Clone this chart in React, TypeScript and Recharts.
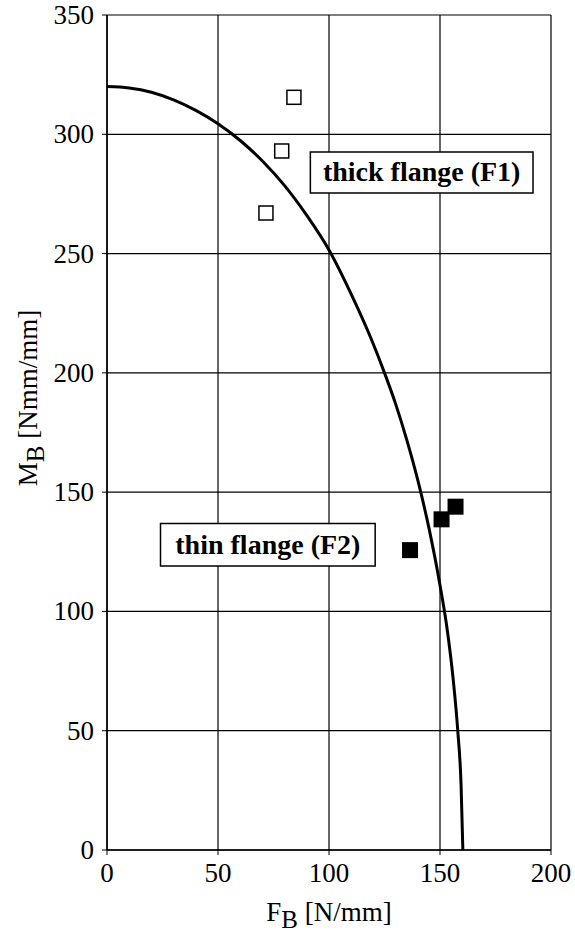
import {
  ComposedChart,
  Line,
  Scatter,
  XAxis,
  YAxis,
  CartesianGrid,
  ReferenceArea,
} from 'recharts';

// interaction curve (F_B, M_B)
const curveF = [0, 10, 20, 30, 40, 50, 60, 70, 80, 90, 100, 110, 120, 125, 130, 135, 140, 145, 150, 153, 156, 158, 159.5, 160.3];
const curveM = [320, 319.4, 317.6, 314.4, 310, 304.4, 297.4, 288.8, 278.5, 266, 251.5, 233, 212, 200, 187, 172, 155, 135, 111, 94, 71, 50, 27, 0];

// test results
const thickF = [84.2, 78.7, 71.6];
const thickM = [315.5, 293, 267];
const thinF = [136.5, 150.7, 157];
const thinM = [125.7, 138.6, 143.9];

const xTicks = [0, 50, 100, 150, 200];
const yTicks = [0, 50, 100, 150, 200, 250, 300, 350];

const FONT = '"Liberation Serif", "Times New Roman", serif';

const curve = curveF.map((f, i) => ({ F: f, M: curveM[i] }));
const thick = thickF.map((f, i) => ({ F: f, M: thickM[i] }));
const thin = thinF.map((f, i) => ({ F: f, M: thinM[i] }));

const OpenSquare = (props: any) => {
  const { cx, cy } = props;
  return <rect x={cx - 7} y={cy - 7} width={14} height={14} fill="#fff" stroke="#000" strokeWidth={1.5} />;
};

const FilledSquare = (props: any) => {
  const { cx, cy } = props;
  return <rect x={cx - 8} y={cy - 8} width={16} height={16} fill="#000" />;
};

const XTick = (props: any) => {
  const { x, y, payload } = props;
  return (
    <text x={x} y={y + 24} textAnchor="middle" fontFamily={FONT} fontSize={27} fill="#000">
      {payload.value}
    </text>
  );
};

const YTick = (props: any) => {
  const { x, y, payload } = props;
  return (
    <text x={x} y={y + 9} textAnchor="end" fontFamily={FONT} fontSize={27} fill="#000">
      {payload.value}
    </text>
  );
};

const boxLabel = (text: string) => (props: any) => {
  const { viewBox } = props;
  const { x, y, width, height } = viewBox;
  return (
    <text
      x={x + width / 2}
      y={y + height / 2 + 9}
      textAnchor="middle"
      fontFamily={FONT}
      fontWeight="bold"
      fontSize={28}
      fill="#000"
    >
      {text}
    </text>
  );
};

const YTitle = () => (
  <text
    transform="translate(37, 398) rotate(-90)"
    textAnchor="middle"
    fontFamily={FONT}
    fontSize={27}
    fill="#000"
  >
    M<tspan fontSize={25} dy={7}>B</tspan>
    <tspan dy={-7}> [Nmm/mm]</tspan>
  </text>
);

const XTitle = (props: any) => {
  const { viewBox } = props;
  const cx = viewBox.x + viewBox.width / 2;
  return (
    <text x={cx} y={921} textAnchor="middle" fontFamily={FONT} fontSize={27} fill="#000">
      F<tspan fontSize={25} dy={7}>B</tspan>
      <tspan dy={-7}> [N/mm]</tspan>
    </text>
  );
};

export default function App() {
  return (
    <div style={{ position: 'absolute', left: 0, top: 0, background: '#fff' }}>
      <ComposedChart
        width={575}
        height={937}
        margin={{ top: 15, right: 24, bottom: 0, left: 27 }}
      >
        <CartesianGrid stroke="#000" strokeWidth={1.2} />
        <XAxis
          type="number"
          dataKey="F"
          domain={[0, 200]}
          ticks={xTicks}
          interval={0}
          axisLine={{ stroke: '#000', strokeWidth: 1.5 }}
          tickLine={{ stroke: '#000' }}
          tickSize={5}
          tickMargin={3}
          tick={<XTick />}
          height={87}
          label={<XTitle />}
        />
        <YAxis
          type="number"
          domain={[0, 350]}
          ticks={yTicks}
          interval={0}
          axisLine={{ stroke: '#000', strokeWidth: 1.5 }}
          tickLine={{ stroke: '#000' }}
          tickSize={5}
          tickMargin={8}
          tick={<YTick />}
          width={80}
          label={<YTitle />}
        />
        <ReferenceArea
          x1={91.6}
          x2={191.9}
          y1={275.4}
          y2={292.6}
          fill="#fff"
          fillOpacity={1}
          stroke="#000"
          strokeWidth={1.5}
          ifOverflow="visible"
          label={boxLabel('thick flange (F1)')}
        />
        <ReferenceArea
          x1={24.1}
          x2={120.8}
          y1={119}
          y2={136.9}
          fill="#fff"
          fillOpacity={1}
          stroke="#000"
          strokeWidth={1.5}
          ifOverflow="visible"
          label={boxLabel('thin flange (F2)')}
        />
        <Line
          data={curve}
          dataKey="M"
          type="monotone"
          stroke="#000"
          strokeWidth={3}
          dot={false}
          isAnimationActive={false}
        />
        <Scatter data={thick} dataKey="M" shape={<OpenSquare />} isAnimationActive={false} />
        <Scatter data={thin} dataKey="M" shape={<FilledSquare />} isAnimationActive={false} />
      </ComposedChart>
    </div>
  );
}
